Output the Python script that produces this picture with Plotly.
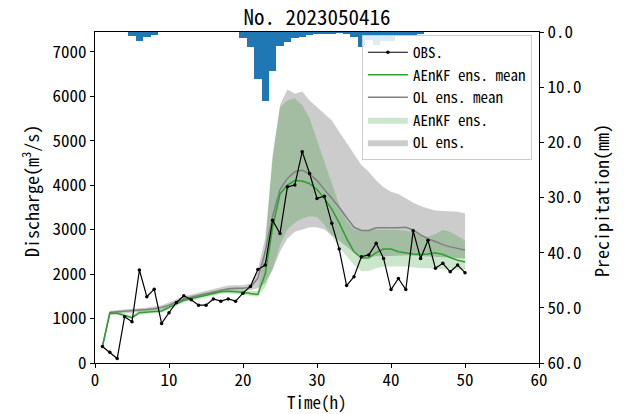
import plotly.graph_objects as go

# ---------------- data ----------------
hours = list(range(1, 51))

obs = [370, 240, 100, 1040, 930, 2090, 1490, 1660, 890, 1130,
       1360, 1510, 1420, 1300, 1300, 1440, 1390, 1440, 1390, 1570,
       1720, 2100, 2200, 3210, 2910, 3960, 4000, 4750, 4260, 3700,
       3750, 3140, 2560, 1740, 1940, 2390, 2430, 2690, 2350, 1650,
       1900, 1650, 2970, 2350, 2760, 2130, 2240, 2050, 2200, 2030]

aenkf_mean = [370, 1120, 1120, 1070, 1020, 1130, 1150, 1160, 1170, 1250,
              1340, 1410, 1450, 1480, 1520, 1560, 1600, 1610, 1600, 1590,
              1560, 1540, 2000, 3050, 3800, 4000, 4100, 4090, 4030, 3900,
              3700, 3460, 3150, 2800, 2500, 2360, 2360, 2480, 2560, 2560,
              2500, 2470, 2450, 2440, 2450, 2480, 2440, 2370, 2310, 2270]

ol_mean = [370, 1130, 1150, 1160, 1170, 1180, 1200, 1220, 1250, 1300,
           1370, 1440, 1480, 1520, 1560, 1600, 1640, 1670, 1680, 1680,
           1700, 1900, 2500, 3300, 3900, 4150, 4300, 4330, 4250, 4100,
           3900, 3700, 3500, 3270, 3050, 2980, 2980, 3040, 3040, 3030,
           3040, 3050, 2990, 2880, 2790, 2730, 2660, 2610, 2570, 2540]

aenkf_low = [370, 1080, 1080, 1030, 990, 1090, 1110, 1120, 1130, 1200,
             1290, 1360, 1400, 1430, 1470, 1510, 1550, 1560, 1550, 1540,
             1510, 1490, 1700, 2100, 2650, 3000, 3150, 3250, 3300, 3280,
             3100, 2850, 2600, 2400, 2200, 2060, 2070, 2130, 2170, 2170,
             2170, 2170, 2150, 2130, 2130, 2120, 2110, 2110, 2100, 2090]

aenkf_high = [370, 1170, 1170, 1120, 1070, 1180, 1200, 1210, 1220, 1310,
              1400, 1470, 1510, 1540, 1580, 1620, 1660, 1670, 1660, 1650,
              1620, 1620, 2600, 4700, 5750, 5900, 5950, 5800, 5500, 5000,
              4500, 4050, 3550, 3200, 3000, 2980, 2980, 3000, 3000, 3000,
              2990, 2980, 2940, 2880, 2840, 2900, 2990, 2950, 2850, 2760]

ol_low = [370, 1090, 1110, 1120, 1130, 1140, 1160, 1180, 1200, 1250,
          1320, 1390, 1430, 1470, 1510, 1550, 1590, 1620, 1630, 1630,
          1640, 1680, 1800, 2100, 2500, 2800, 2950, 3000, 3050, 3050,
          3000, 2870, 2750, 2620, 2480, 2400, 2380, 2400, 2400, 2400,
          2410, 2420, 2420, 2410, 2400, 2390, 2380, 2370, 2360, 2350]

ol_high = [370, 1170, 1190, 1200, 1210, 1230, 1250, 1270, 1300, 1360,
           1430, 1500, 1540, 1580, 1620, 1660, 1710, 1740, 1750, 1750,
           1780, 2100, 2800, 4600, 5800, 6150, 6050, 6100, 5900, 5750,
           5600, 5450, 5200, 4950, 4700, 4450, 4300, 4100, 3950, 3850,
           3800, 3700, 3600, 3530, 3470, 3430, 3420, 3420, 3400, 3360]

precip = [0, 0, 0, 0, 0.8, 1.6, 0.9, 0.5, 0, 0,
          0, 0, 0, 0, 0, 0, 0, 0, 0, 1.0,
          2.8, 8.5, 12.5, 7.0, 2.5, 1.8, 1.0, 0.9, 0.5, 0.4,
          0.2, 0.2, 0.1, 0.3, 0.9, 2.7, 1.5, 2.4, 1.6, 1.6,
          0.8, 0.5, 0.5, 0.3, 0, 0, 0, 0, 0, 0]

x_ticks = [0, 10, 20, 30, 40, 50, 60]
q_ticks = [0, 1000, 2000, 3000, 4000, 5000, 6000, 7000]
p_ticks = [0, 10, 20, 30, 40, 50, 60]

# ---------------- figure ----------------
FONT = "Noto Sans Mono CJK SC, Noto Sans CJK SC, sans-serif"

fig = go.Figure()

# OL ensemble band
fig.add_trace(go.Scatter(
    x=hours + hours[::-1], y=ol_high + ol_low[::-1],
    fill="toself", fillcolor="rgba(128,128,128,0.4)",
    line=dict(width=0), mode="lines", name="OL ens.",
    legendrank=5, hoverinfo="skip"))

# AEnKF ensemble band
fig.add_trace(go.Scatter(
    x=hours + hours[::-1], y=aenkf_high + aenkf_low[::-1],
    fill="toself", fillcolor="rgba(0,128,0,0.2)",
    line=dict(width=0), mode="lines", name="AEnKF ens.",
    legendrank=4, hoverinfo="skip"))

fig.add_trace(go.Scatter(
    x=hours, y=ol_mean, mode="lines", name="OL ens. mean",
    line=dict(color="#808080", width=1.5), legendrank=3))

fig.add_trace(go.Scatter(
    x=hours, y=aenkf_mean, mode="lines", name="AEnKF ens. mean",
    line=dict(color="#2ca02c", width=1.5), legendrank=2))

fig.add_trace(go.Scatter(
    x=hours, y=obs, mode="lines+markers", name="OBS.",
    line=dict(color="black", width=1.2),
    marker=dict(color="black", size=3.5), legendrank=1))

# precipitation bars on reversed right axis
fig.add_trace(go.Bar(
    x=hours, y=precip, width=1.0, yaxis="y2",
    marker=dict(color="#1f77b4", line=dict(width=0)),
    showlegend=False, hoverinfo="skip"))

axis_common = dict(
    showline=True, linecolor="black", linewidth=1,
    ticks="outside", ticklen=4, tickcolor="black",
    showgrid=False, zeroline=False, automargin=False,
    tickfont=dict(family=FONT, size=17, color="black"),
)

title_font = dict(family=FONT, size=18, color="black")

fig.update_layout(
    width=627, height=414,
    margin=dict(l=95, r=88, t=32, b=51),
    paper_bgcolor="white", plot_bgcolor="white",
    font=dict(family=FONT, color="black"),
    title=dict(text="No. 2023050416", x=0.5, xref="paper", xanchor="center",
               y=0.957, yref="container", yanchor="middle", automargin=False,
               font=dict(family=FONT, size=21, color="black")),
    xaxis=dict(range=[0, 60], tickvals=x_ticks, mirror=True,
               ticklabelstandoff=-2, **axis_common),
    yaxis=dict(range=[0, 7440], tickvals=q_ticks, **axis_common),
    yaxis2=dict(range=[60, 0], tickvals=p_ticks, tickformat=".1f",
                overlaying="y", side="right", anchor="x", **axis_common),
    legend=dict(x=0.984, y=0.991, xanchor="right", yanchor="top",
                bgcolor="rgba(255,255,255,0.85)", bordercolor="#cccccc",
                borderwidth=1, font=dict(family=FONT, size=15, color="black"),
                tracegroupgap=0, itemwidth=40),
    bargap=0,
    showlegend=True,
    annotations=[
        dict(text="Time(h)", xref="paper", yref="paper", x=0.5, y=-0.115,
             xanchor="center", yanchor="middle", showarrow=False,
             font=dict(family=FONT, size=17, color="black")),
        dict(text="Discharge(m<sup>3</sup>/s)", xref="paper", yref="paper",
             x=-0.146, y=0.52, textangle=-90, xanchor="center", yanchor="middle",
             showarrow=False, font=title_font),
        dict(text="Precipitation(mm)", xref="paper", yref="paper",
             x=1.14, y=0.49, textangle=-90, xanchor="center", yanchor="middle",
             showarrow=False, font=title_font),
    ],
)

fig.write_html("out.html",
               config={"displayModeBar": False},
               post_script="document.body.style.margin='0';")
